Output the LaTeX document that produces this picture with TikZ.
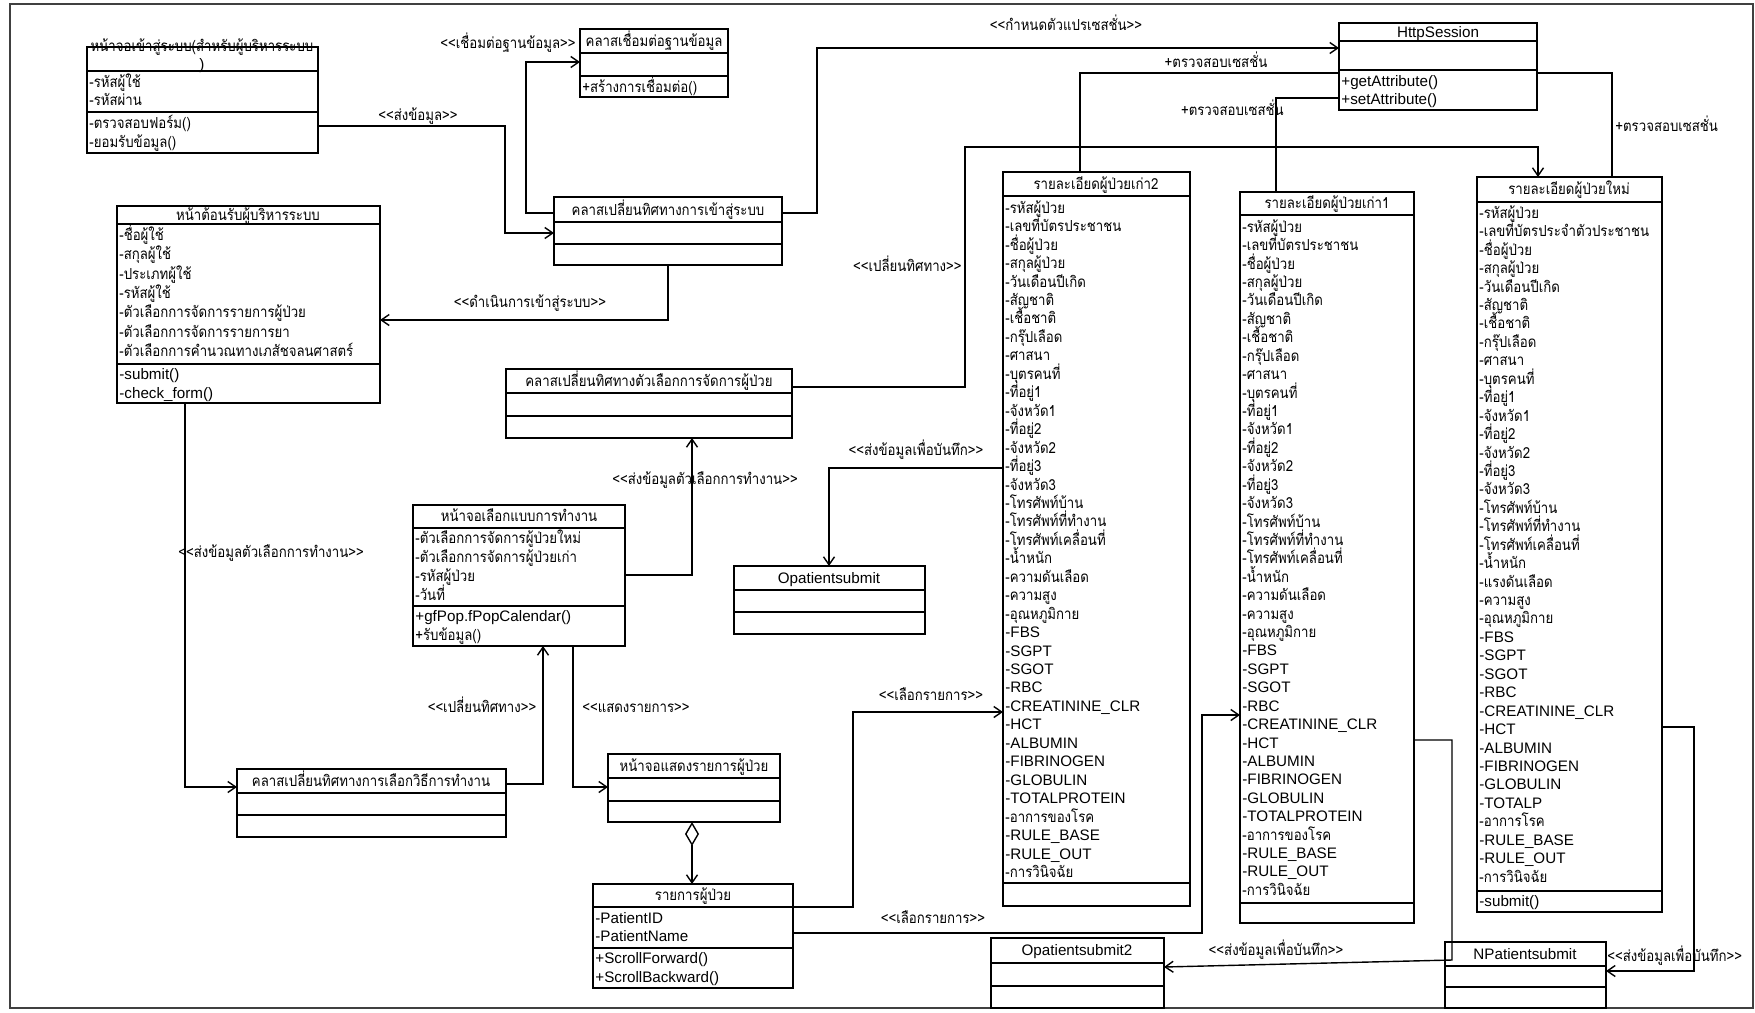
\documentclass[tikz,border=0pt]{standalone}
\usepackage{fontspec}
\setmainfont{Liberation Sans}
\newfontfamily\thf[Script=Thai,FakeStretch=0.87]{Loma}
\usetikzlibrary{arrows.meta,fit}

% stereotype brackets, kept apart so no font mapping joins them
\newcommand\oq{<{}<}
\newcommand\cq{>{}>}

% class frame from its corners
\newcommand\umlframe[5]{%
  \coordinate (#1-nw) at (#2,#3);
  \coordinate (#1-se) at (#4,#5);
  \node[umlbox, fit=(#1-nw)(#1-se)] (#1) {};}
% compartment separator
\newcommand\umlsep[3]{\draw[umlsepline] (#1,#3) -- (#2,#3);}
% rows of members: prefix, x, first y, step, list
\newcommand\umlrows[5]{%
  \foreach \itm [count=\k] in #5 {\node[rowtxt] (#1-\k) at (#2,{#3+(\k-1)*#4}) {\itm};}}

\newcommand\oldattrs{\thf -รหัสผู้ป่วย, \thf -เลขที่บัตรประชาชน, \thf -ชื่อผู้ป่วย, \thf -สกุลผู้ป่วย, \thf -วันเดือนปีเกิด, \thf -สัญชาติ, \thf -เชื้อชาติ, \thf -กรุ๊ปเลือด, \thf -ศาสนา, \thf -บุตรคนที่, \thf -ที่อยู่1, \thf -จังหวัด1, \thf -ที่อยู่2, \thf -จังหวัด2, \thf -ที่อยู่3, \thf -จังหวัด3, \thf -โทรศัพท์บ้าน, \thf -โทรศัพท์ที่ทำงาน, \thf -โทรศัพท์เคลื่อนที่, \thf -น้ำหนัก, \thf -ความดันเลือด, \thf -ความสูง, \thf -อุณหภูมิกาย, -FBS, -SGPT, -SGOT, -RBC, -CREATININE\_CLR, -HCT, -ALBUMIN, -FIBRINOGEN, -GLOBULIN, -TOTALPROTEIN, \thf -อาการของโรค, -RULE\_BASE, -RULE\_OUT, \thf -การวินิจฉัย}

\newcommand\newattrs{\thf -รหัสผู้ป่วย, \thf -เลขที่บัตรประจำตัวประชาชน, \thf -ชื่อผู้ป่วย, \thf -สกุลผู้ป่วย, \thf -วันเดือนปีเกิด, \thf -สัญชาติ, \thf -เชื้อชาติ, \thf -กรุ๊ปเลือด, \thf -ศาสนา, \thf -บุตรคนที่, \thf -ที่อยู่1, \thf -จังหวัด1, \thf -ที่อยู่2, \thf -จังหวัด2, \thf -ที่อยู่3, \thf -จังหวัด3, \thf -โทรศัพท์บ้าน, \thf -โทรศัพท์ที่ทำงาน, \thf -โทรศัพท์เคลื่อนที่, \thf -น้ำหนัก, \thf -แรงดันเลือด, \thf -ความสูง, \thf -อุณหภูมิกาย, -FBS, -SGPT, -SGOT, -RBC, -CREATININE\_CLR, -HCT, -ALBUMIN, -FIBRINOGEN, -GLOBULIN, -TOTALP, \thf -อาการโรค, -RULE\_BASE, -RULE\_OUT, \thf -การวินิจฉัย}

\begin{document}
\begin{tikzpicture}[x=0.5pt,y=-0.5pt,
  every node/.style={font=\fontsize{7.6pt}{9pt}\selectfont},
  umlbox/.style={draw, line width=0.75pt, inner sep=0pt, outer sep=0pt},
  umlsepline/.style={line width=0.75pt},
  rowtxt/.style={anchor=mid west, inner sep=0pt},
  headtxt/.style={anchor=mid, inner sep=0pt},
  lbl/.style={anchor=mid, inner sep=0pt},
  conn/.style={line width=0.7pt},
  arr/.style={conn, -{Straight Barb[length=4pt,width=5.5pt]}},
  agg/.style={conn, {Diamond[open,length=12pt,width=7pt]}-{Straight Barb[length=4pt,width=5.5pt]}}
]
\fill[white] (0,0) rectangle (1755,1012);
\useasboundingbox (0,0) rectangle (1755,1012);
\draw[black!75, line width=0.8pt] (10,4) rectangle (1753,1008);

% ---- login screen
\umlframe{login}{87}{47}{318}{153}
\umlsep{87}{318}{71}\umlsep{87}{318}{112}
\node[headtxt, align=center] (login-h) at (202,64) {\thf หน้าจอเข้าสู่ระบบ(สำหรับผู้บริหารระบบ\\)};
\umlrows{login-a}{89}{82}{18}{{\thf -รหัสผู้ใช้, \thf -รหัสผ่าน}}
\umlrows{login-o}{89}{123}{19}{{\thf -ตรวจสอบฟอร์ม(), \thf -ยอมรับข้อมูล()}}

% ---- database connection
\umlframe{db}{580}{29}{728}{97}
\umlsep{580}{728}{53}\umlsep{580}{728}{76}
\node[headtxt] (db-h) at (654,41) {\thf คลาสเชื่อมต่อฐานข้อมูล};
\node[rowtxt] (db-o1) at (582,87) {\thf +สร้างการเชื่อมต่อ()};

% ---- login redirect
\umlframe{lgr}{554}{197}{782}{265}
\umlsep{554}{782}{222}\umlsep{554}{782}{244}
\node[headtxt] (lgr-h) at (668,210) {\thf คลาสเปลี่ยนทิศทางการเข้าสู่ระบบ};

% ---- session
\umlframe{sess}{1339}{23}{1537}{110}
\umlsep{1339}{1537}{41}\umlsep{1339}{1537}{70}
\node[headtxt] (sess-h) at (1438,32) {HttpSession};
\umlrows{sess-o}{1341}{81}{18}{{+getAttribute(), +setAttribute()}}

% ---- welcome page
\umlframe{wel}{117}{206}{380}{403}
\umlsep{117}{380}{224}\umlsep{117}{380}{364}
\node[headtxt] (wel-h) at (248,215) {\thf หน้าต้อนรับผู้บริหารระบบ};
\umlrows{wel-a}{119}{235}{19.4}{{\thf -ชื่อผู้ใช้, \thf -สกุลผู้ใช้, \thf -ประเภทผู้ใช้, \thf -รหัสผู้ใช้, \thf -ตัวเลือกการจัดการรายการผู้ป่วย, \thf -ตัวเลือกการจัดการรายการยา, \thf -ตัวเลือกการคำนวณทางเภสัชจลนศาสตร์}}
\umlrows{wel-o}{119}{374}{19}{{-submit(), -check\_form()}}

% ---- patient option redirect
\umlframe{opr}{506}{369}{792}{438}
\umlsep{506}{792}{393}\umlsep{506}{792}{416}
\node[headtxt] (opr-h) at (649,381) {\thf คลาสเปลี่ยนทิศทางตัวเลือกการจัดการผู้ป่วย};

% ---- work mode screen
\umlframe{cho}{413}{505}{625}{646}
\umlsep{413}{625}{528}\umlsep{413}{625}{606}
\node[headtxt] (cho-h) at (519,516) {\thf หน้าจอเลือกแบบการทำงาน};
\umlrows{cho-a}{415}{538}{19}{{\thf -ตัวเลือกการจัดการผู้ป่วยใหม่, \thf -ตัวเลือกการจัดการผู้ป่วยเก่า, \thf -รหัสผู้ป่วย, \thf -วันที่}}
\umlrows{cho-o}{415}{616}{19.5}{{+gfPop.fPopCalendar(), \thf +รับข้อมูล()}}

% ---- work mode redirect
\umlframe{chr}{237}{769}{506}{837}
\umlsep{237}{506}{793}\umlsep{237}{506}{815}
\node[headtxt] (chr-h) at (371,781) {\thf คลาสเปลี่ยนทิศทางการเลือกวิธีการทำงาน};

% ---- patient list screen
\umlframe{lst}{608}{754}{780}{822}
\umlsep{608}{780}{778}\umlsep{608}{780}{801}
\node[headtxt] (lst-h) at (694,766) {\thf หน้าจอแสดงรายการผู้ป่วย};

% ---- patient list
\umlframe{pl}{593}{884}{793}{988}
\umlsep{593}{793}{907}\umlsep{593}{793}{948}
\node[headtxt] (pl-h) at (693,895) {\thf รายการผู้ป่วย};
\umlrows{pl-a}{595}{918}{18.5}{{-PatientID, -PatientName}}
\umlrows{pl-o}{595}{958}{19}{{+ScrollForward(), +ScrollBackward()}}

% ---- submit classes
\umlframe{osub}{734}{566}{925}{634}
\umlsep{734}{925}{590}\umlsep{734}{925}{612}
\node[headtxt] (osub-h) at (829,578) {Opatientsubmit};

\umlframe{osub2}{991}{938}{1164}{1008}
\umlsep{991}{1164}{963}\umlsep{991}{1164}{986}
\node[headtxt] (osub2-h) at (1077,950) {Opatientsubmit2};

\umlframe{nsub}{1445}{942}{1606}{1008}
\umlsep{1445}{1606}{966}\umlsep{1445}{1606}{987}
\node[headtxt] (nsub-h) at (1525,954) {NPatientsubmit};

% ---- patient detail classes
\umlframe{old2}{1003}{172}{1190}{906}
\umlsep{1003}{1190}{196}\umlsep{1003}{1190}{883}
\node[headtxt] (old2-h) at (1096,184) {\thf รายละเอียดผู้ป่วยเก่า2};
\umlrows{old2-a}{1005}{208}{18.45}{\oldattrs}

\umlframe{old1}{1240}{192}{1414}{923}
\umlsep{1240}{1414}{215}\umlsep{1240}{1414}{903}
\node[headtxt] (old1-h) at (1327,203) {\thf รายละเอียดผู้ป่วยเก่า1};
\umlrows{old1-a}{1242}{227}{18.42}{\oldattrs}

\umlframe{new}{1477}{177}{1662}{912}
\umlsep{1477}{1662}{202}\umlsep{1477}{1662}{891}
\node[headtxt] (new-h) at (1569,189) {\thf รายละเอียดผู้ป่วยใหม่};
\umlrows{new-a}{1479}{213}{18.44}{\newattrs}
\node[rowtxt] (new-o1) at (1479,901) {-submit()};

% ---- bend points of the connectors
\coordinate (p1a) at (505,126);  \coordinate (p1b) at (505,233);
\coordinate (p2a) at (526,213);  \coordinate (p2b) at (526,62);
\coordinate (p3a) at (817,213);  \coordinate (p3b) at (817,48);
\coordinate (p4) at (1080,73);
\coordinate (p5) at (1276,98);
\coordinate (p6) at (1612,73);
\coordinate (p7a) at (965,387);  \coordinate (p7b) at (965,147); \coordinate (p7c) at (1538,147);
\coordinate (p8) at (668,320);
\coordinate (p9) at (692,575);
\coordinate (p10) at (185,787);
\coordinate (p11) at (543,784);
\coordinate (p12) at (573,787);
\coordinate (p13) at (692,850);
\coordinate (p14a) at (853,907); \coordinate (p14b) at (853,712);
\coordinate (p15a) at (1202,933); \coordinate (p15b) at (1202,715);
\coordinate (p16) at (829,468);
\coordinate (p17a) at (1452,740); \coordinate (p17b) at (1452,960); \coordinate (p17c) at (1300,967);
\coordinate (p18a) at (1694,727); \coordinate (p18b) at (1694,971);

% ---- connectors
\draw[arr] (login.east |- p1a) -- (p1a) -- (p1b) -- (lgr.west |- p1b);
\draw[arr] (lgr.west |- p2a) -- (p2a) -- (p2b) -- (db.west |- p2b);
\draw[arr] (lgr.east |- p3a) -- (p3a) -- (p3b) -- (sess.west |- p3b);
\draw[conn] (sess.west |- p4) -- (p4) -- (p4 |- old2.north);
\draw[conn] (sess.west |- p5) -- (p5) -- (p5 |- old1.north);
\draw[conn] (sess.east |- p6) -- (p6) -- (p6 |- new.north);
\draw[arr] (opr.east |- p7a) -- (p7a) -- (p7b) -- (p7c) -- (p7c |- new.north);
\draw[arr] (p8 |- lgr.south) -- (p8) -- (wel.east |- p8);
\draw[arr] (cho.east |- p9) -- (p9) -- (p9 |- opr.south);
\draw[arr] (p10 |- wel.south) -- (p10) -- (chr.west |- p10);
\draw[arr] (chr.east |- p11) -- (p11) -- (p11 |- cho.south);
\draw[arr] (p12 |- cho.south) -- (p12) -- (lst.west |- p12);
\draw[agg] (p13 |- lst.south) -- (p13 |- pl.north);
\draw[arr] (pl.east |- p14a) -- (p14a) -- (p14b) -- (old2.west |- p14b);
\draw[arr] (pl.east |- p15a) -- (p15a) -- (p15b) -- (old1.west |- p15b);
\draw[arr] (old2.west |- p16) -- (p16) -- (p16 |- osub.north);
\draw[arr] (old1.east |- p17a) -- (p17a) -- (p17b) -- (osub2.east |- p17c);
\draw[arr] (new.east |- p18a) -- (p18a) -- (p18b) -- (nsub.east |- p18b);

% ---- connector labels
\node[lbl] (l1) at (418,115) {\thf \oq ส่งข้อมูล\cq};
\node[lbl, anchor=mid east] (l2) at (576,43) {\thf \oq เชื่อมต่อฐานข้อมูล\cq};
\node[lbl] (l3) at (1066,25) {\thf \oq กำหนดตัวแปรเซสชั่น\cq};
\node[lbl] (l4) at (1216,62) {\thf +ตรวจสอบเซสชั่น};
\node[lbl, anchor=mid east] (l5) at (1284,110) {\thf +ตรวจสอบเซสชั่น};
\node[lbl, anchor=mid west] (l6) at (1615,126) {\thf +ตรวจสอบเซสชั่น};
\node[lbl, anchor=mid east] (l7) at (962,266) {\thf \oq เปลี่ยนทิศทาง\cq};
\node[lbl] (l8) at (530,302) {\thf \oq ดำเนินการเข้าสู่ระบบ\cq};
\node[lbl] (l9) at (705,479) {\thf \oq ส่งข้อมูลตัวเลือกการทำงาน\cq};
\node[lbl, anchor=mid west] (l10) at (178,552) {\thf \oq ส่งข้อมูลตัวเลือกการทำงาน\cq};
\node[lbl] (l11) at (482,707) {\thf \oq เปลี่ยนทิศทาง\cq};
\node[lbl] (l12) at (636,707) {\thf \oq แสดงรายการ\cq};
\node[lbl] (l13) at (931,695) {\thf \oq เลือกรายการ\cq};
\node[lbl] (l14) at (933,918) {\thf \oq เลือกรายการ\cq};
\node[lbl] (l15) at (916,450) {\thf \oq ส่งข้อมูลเพื่อบันทึก\cq};
\node[lbl] (l16) at (1276,950) {\thf \oq ส่งข้อมูลเพื่อบันทึก\cq};
\node[lbl, anchor=mid west] (l17) at (1607,956) {\thf \oq ส่งข้อมูลเพื่อบันทึก\cq};
\end{tikzpicture}
\end{document}
